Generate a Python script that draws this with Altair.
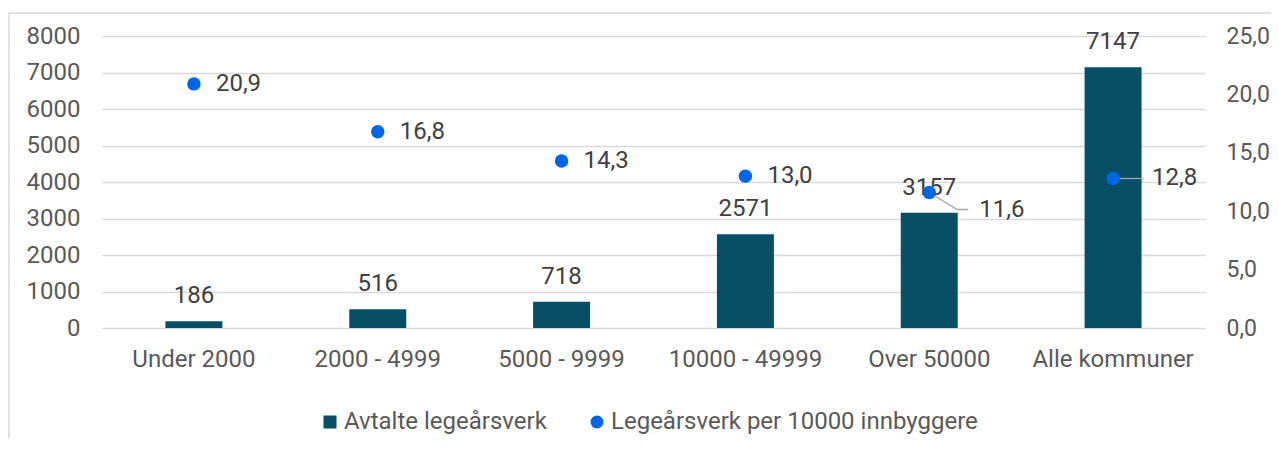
import altair as alt
import pandas as pd

categories = ["Under 2000", "2000 - 4999", "5000 - 9999", "10000 - 49999", "Over 50000", "Alle kommuner"]
avtalte = [186, 516, 718, 2571, 3157, 7147]
per10000 = [20.9, 16.8, 14.3, 13.0, 11.6, 12.8]
left_ticks = [0, 1000, 2000, 3000, 4000, 5000, 6000, 7000, 8000]
right_ticks = [0, 5, 10, 15, 20, 25]
series_names = ["Avtalte legeårsverk", "Legeårsverk per 10000 innbyggere"]
series_colors = ["#074F65", "#0066E8"]

df = pd.DataFrame({"kategori": categories, "avtalte": avtalte, "per": per10000})
df["per_label"] = [f"{v:.1f}".replace(".", ",") for v in per10000]

TEXT = "#595959"
DARK = "#404040"
GRID = "#D9D9D9"
FS = 24

base = alt.Chart(df)

x = alt.X(
    "kategori:N",
    sort=categories,
    scale=alt.Scale(paddingInner=0.69, paddingOuter=0.345),
    axis=alt.Axis(title=None, labelAngle=0, domain=False, ticks=False,
                  labelPadding=19, labelFontSize=FS, labelColor=TEXT, grid=False),
)

color = alt.Color(
    "series:N",
    scale=alt.Scale(domain=series_names, range=series_colors),
    legend=alt.Legend(orient="none", legendX=216, legendY=374, direction="horizontal",
                      title=None, labelFontSize=FS, labelColor=TEXT, symbolSize=169,
                      columnPadding=38, labelOffset=2, padding=0, symbolStrokeWidth=0,
                      symbolOpacity=1, labelLimit=600),
)
shape = alt.Shape("series:N", scale=alt.Scale(domain=series_names, range=["square", "circle"]))

y_left = alt.Y(
    "avtalte:Q", scale=alt.Scale(domain=[0, 8000], nice=False, zero=True),
    axis=alt.Axis(orient="left", title=None, values=left_ticks, domain=False, ticks=False,
                  grid=True, gridColor=GRID, gridWidth=1.3, labelPadding=22, format="d",
                  labelFontSize=FS, labelColor=TEXT))
y_right = alt.Y(
    "per:Q", scale=alt.Scale(domain=[0, 25], nice=False, zero=True),
    axis=alt.Axis(orient="right", title=None, values=right_ticks, domain=False, ticks=False,
                  grid=False, labelPadding=21, labelFontSize=23, labelColor=TEXT,
                  labelExpr="replace(format(datum.value, '.1f'), '.', ',')"))

bars = base.mark_bar().transform_calculate(series=f"'{series_names[0]}'").encode(
    x=x, y=y_left, color=color, shape=shape,
)
bar_labels = base.mark_text(dy=-25, baseline="middle", fontSize=FS, color=DARK).encode(
    x=x, y=y_left, text=alt.Text("avtalte:Q"),
)
left_group = alt.layer(bars, bar_labels)

leader_a = base.transform_filter(alt.datum.kategori == categories[4]).mark_point(
    shape="M0,0L0.7,0.425H0.975", size=6400, filled=False, color="#A6A6A6",
    strokeWidth=1.3, opacity=1).encode(x=x, y=y_right)
leader_b = base.transform_filter(alt.datum.kategori == categories[5]).mark_point(
    shape="M0,0H0.75", size=6400, filled=False, color="#A6A6A6",
    strokeWidth=1.3, opacity=1).encode(x=x, y=y_right)

dots = base.mark_point(filled=True, size=180, opacity=1).transform_calculate(
    series=f"'{series_names[1]}'").encode(
    x=x, y=y_right, color=color, shape=shape,
)
dot_labels = base.transform_filter(
    (alt.datum.kategori != categories[4]) & (alt.datum.kategori != categories[5])
).mark_text(align="left", baseline="middle", dx=22, fontSize=FS, color=DARK).encode(
    x=x, y=y_right, text="per_label:N")
dot_label_a = base.transform_filter(alt.datum.kategori == categories[4]).mark_text(
    align="left", baseline="middle", dx=50, dy=17, fontSize=FS, color=DARK).encode(
    x=x, y=y_right, text="per_label:N")
dot_label_b = base.transform_filter(alt.datum.kategori == categories[5]).mark_text(
    align="left", baseline="middle", dx=39, dy=0, fontSize=FS, color=DARK).encode(
    x=x, y=y_right, text="per_label:N")

right_group = alt.layer(leader_a, leader_b, dots, dot_labels, dot_label_a, dot_label_b)

frame_df = pd.DataFrame({"a": [0]})
frame_left = alt.Chart(frame_df).mark_rule(color=GRID, strokeWidth=1.5, clip=False).encode(
    x=alt.value(-93), y=alt.value(-23), y2=alt.value(500))
frame_top = alt.Chart(frame_df).mark_rule(color=GRID, strokeWidth=1.5, clip=False).encode(
    x=alt.value(-93), x2=alt.value(1300), y=alt.value(-23))

chart = alt.layer(frame_left, frame_top, left_group, right_group).resolve_scale(
    y="independent"
).properties(
    width=1103, height=292,
    autosize=alt.AutoSizeParams(type="none"),
    padding={"left": 94, "top": 28, "right": 66, "bottom": 110},
).configure(font="Roboto").configure_view(stroke=None)

chart.save("out.html", embed_options={"renderer": "svg", "actions": False})
